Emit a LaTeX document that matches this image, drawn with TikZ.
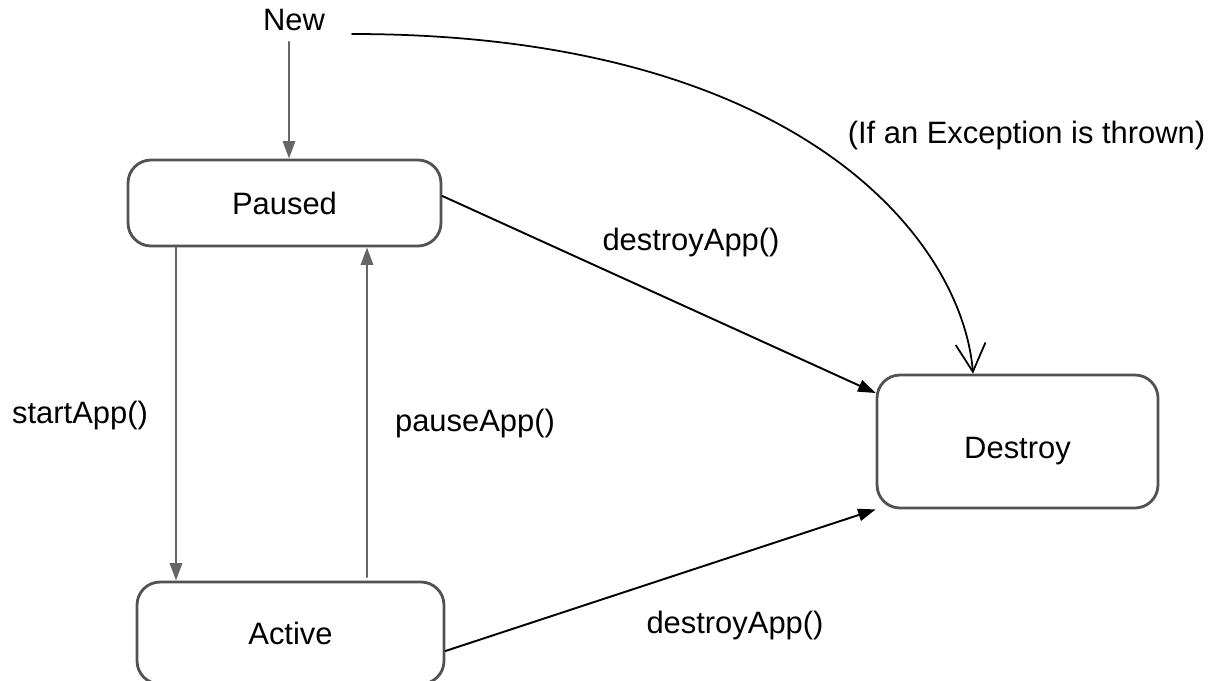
\documentclass[tikz,border=0pt]{standalone}
\usepackage{fontspec}
\setmainfont{Liberation Sans}
\usetikzlibrary{arrows.meta,calc}
\tikzset{
  state/.style={draw=black!68,line width=1.6pt,rounded corners=0.46cm,inner sep=0pt},
  lbl/.style={inner sep=0pt},
  trans/.style={line width=1.1pt,-{Triangle[length=10pt,width=7pt]}},
  vtrans/.style={trans,draw=black!60,line width=1.4pt},
}
\begin{document}
\begin{tikzpicture}[line cap=round,line join=round,x=0.02cm,y=-0.02cm,font=\fontsize{17.6}{21}\selectfont]
\useasboundingbox (0,0) rectangle (1219,680);
\node[state,minimum width=6.26cm,minimum height=1.72cm] (paused) at (284.5,203) {Paused};
\node[state,minimum width=6.14cm,minimum height=2.04cm] (active) at (290.5,633) {Active};
\node[state,minimum width=5.62cm,minimum height=2.66cm,text height=22.5pt] (destroy) at (1017.5,441.5) {Destroy};
\node[lbl] (new) at (294,20) {New};
\coordinate (newexit) at (289,42);
\coordinate (excstart) at (352,34);
\coordinate (startx) at (176,0);
\coordinate (pausex) at (367,577);
\draw[vtrans] (newexit) -- (newexit |- paused.north);
\draw[vtrans] (startx |- paused.south) -- (startx |- active.north);
\draw[vtrans] (pausex) -- (pausex |- paused.south);
\draw[trans] ([yshift=0.14cm]paused.east) -- ([yshift=0.97cm]destroy.west);
\draw[trans] ([yshift=-0.36cm]active.east) -- (destroy.south west);
\draw[line width=1pt,-{Straight Barb[length=16pt,width=17pt]}] (excstart) .. controls (800,34) and (962,240) .. ([xshift=-0.89cm]destroy.north);
\node[lbl] (destroyup) at (691,242) {destroyApp()};
\node[lbl] (destroydown) at (735,625) {destroyApp()};
\node[lbl] (start) at (80,415) {startApp()};
\node[lbl] (pause) at (475,423) {pauseApp()};
\node[lbl] (exc) at (1026.5,135) {(If an Exception is thrown)};
\end{tikzpicture}
\end{document}
